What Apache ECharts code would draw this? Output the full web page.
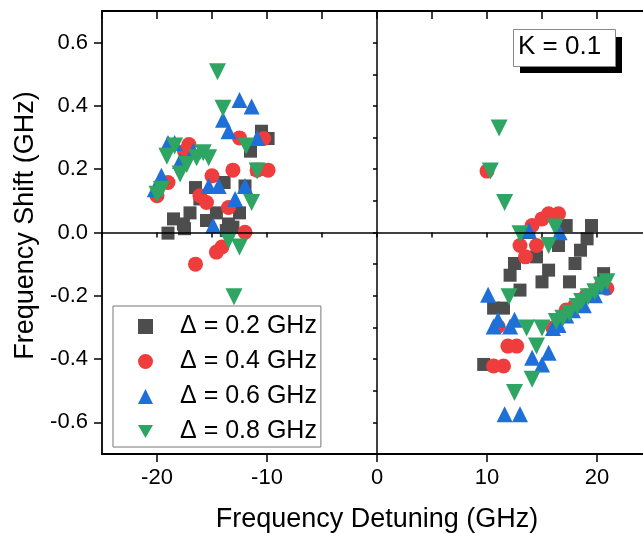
<!DOCTYPE html>
<html>
<head>
<meta charset="utf-8">
<script src="https://cdn.jsdelivr.net/npm/echarts@6/dist/echarts.min.js"></script>
<style>
  html, body { margin: 0; padding: 0; background: #fff; overflow: hidden; }
  #main { width: 700px; height: 533px; }
</style>
</head>
<body>
<div id="main"></div>
<script>
// axis ticks
const xTicks = [-20, -10, 0, 10, 20]
const yTicks = [-0.6, -0.4, -0.2, 0, 0.2, 0.4, 0.6]

// Delta = 0.2 GHz
const d02 = [
  [-10.5, 0.32], [-9.9, 0.297], [-11.5, 0.257], [-10.9, 0.2], [-13.9, 0.158], [-16.5, 0.142],
  [-12.0, 0.147], [-16.1, 0.106], [-17.0, 0.062], [-18.5, 0.043], [-17.6, 0.027], [-19.0, -0.002],
  [-17.5, 0.012], [-15.5, 0.038], [-14.6, 0.062], [-13.5, 0.027], [-12.5, 0.062], [-13.1, 0.017],
  [-13.7, 0.006],
  [17.2, 0.022], [19.5, 0.022], [19.1, -0.02], [18.5, -0.056], [18.0, -0.098], [16.5, -0.041],
  [14.5, -0.077], [15.6, -0.119], [15.0, -0.156], [17.5, -0.156], [12.5, -0.098], [12.1, -0.135],
  [13.0, -0.182], [10.6, -0.239], [11.5, -0.239], [9.7, -0.417], [20.6, -0.13], [13.8, 0.0]
]
// Delta = 0.4 GHz
const d04 = [
  [-17.1, 0.278], [-17.5, 0.257], [-12.5, 0.299], [-10.3, 0.297], [-13.1, 0.197], [-10.9, 0.197],
  [-9.9, 0.197], [-15.0, 0.179], [-19.0, 0.158], [-20.0, 0.116], [-16.1, 0.116], [-15.5, 0.095],
  [-13.5, 0.079], [-12.0, 0.001], [-14.1, -0.046], [-14.6, -0.062], [-16.5, -0.1],
  [10.0, 0.194], [14.1, 0.022], [15.0, 0.043], [15.6, 0.059], [16.5, 0.059], [13.0, -0.041],
  [14.5, -0.041], [13.5, -0.077], [11.9, -0.359], [12.7, -0.359], [10.6, -0.422], [11.5, -0.422],
  [11.0, -0.297], [16.0, -0.302], [17.2, -0.245], [18.0, -0.23], [19.0, -0.2], [20.4, -0.166],
  [20.9, -0.176]
]
// Delta = 0.6 GHz
const d06 = [
  [-12.5, 0.419], [-11.4, 0.398], [-14.0, 0.356], [-13.5, 0.32], [-10.9, 0.299], [-19.0, 0.283],
  [-18.4, 0.283], [-16.7, 0.257], [-17.9, 0.226], [-19.6, 0.179], [-20.2, 0.137], [-15.3, 0.147],
  [-14.4, 0.147], [-12.0, 0.147], [-12.9, 0.106], [-14.9, 0.022],
  [10.1, -0.197], [11.0, -0.276], [10.6, -0.297], [12.1, -0.297], [12.5, -0.276], [16.0, -0.302],
  [14.1, -0.396], [15.6, -0.38], [15.0, -0.417], [11.6, -0.574], [13.0, -0.574], [13.8, 0.006],
  [16.6, 0.001], [16.5, -0.292], [17.2, -0.262], [17.8, -0.246], [18.8, -0.23], [19.8, -0.198],
  [20.6, -0.171]
]
// Delta = 0.8 GHz
const d08 = [
  [-14.5, 0.508], [-14.0, 0.393], [-11.9, 0.273], [-10.9, 0.194], [-11.4, 0.095], [-19.1, 0.241],
  [-18.4, 0.273], [-17.9, 0.185], [-17.3, 0.215], [-16.4, 0.236], [-15.8, 0.252], [-15.3, 0.236],
  [-20.0, 0.121], [-19.6, 0.137], [-13.5, -0.025], [-12.5, -0.046], [-13.0, -0.203],
  [11.1, 0.33], [10.3, 0.194], [11.6, 0.095], [13.0, -0.004], [16.2, 0.017], [15.6, -0.041],
  [12.0, -0.203], [13.6, -0.302], [15.0, -0.302], [14.5, -0.359], [14.1, -0.464], [12.5, -0.506],
  [16.3, -0.281], [16.9, -0.271], [17.5, -0.255], [18.2, -0.234], [18.6, -0.218], [19.2, -0.203],
  [19.8, -0.187], [20.4, -0.166], [20.9, -0.156]
]

const font = 'Liberation Sans, Arial, sans-serif'
const downTri = 'path://M0,0L10,0L5,8.66Z'

const chart = echarts.init(document.getElementById('main'), null, { renderer: 'canvas' })

const mkSeries = (name, data, color, symbol, size) => ({
  name, type: 'scatter', data, symbol, symbolSize: size,
  itemStyle: { color, opacity: 1 },
  emphasis: { disabled: true }
})

const s02 = mkSeries('Δ = 0.2 GHz', d02, '#4d4d4d', 'rect', 13)
s02.markLine = {
  silent: true, symbol: 'none', animation: false,
  label: { show: false },
  lineStyle: { color: '#000', width: 1.5, type: 'solid' },
  data: [{ xAxis: 0 }, { yAxis: 0 }]
}

const option = {
  backgroundColor: '#fff',
  animation: false,
  grid: { left: 102, top: 11, width: 550, height: 443, containLabel: false, outerBoundsMode: 'none' },
  xAxis: [
    {
      type: 'value', min: -25, max: 25, interval: 5, position: 'bottom',
      axisLine: { show: true, onZero: false, lineStyle: { color: '#000', width: 1.8 } },
      axisTick: { show: true, inside: false, length: 8, customValues: xTicks, lineStyle: { color: '#000', width: 1.5 } },
      axisLabel: { customValues: xTicks, margin: 13, color: '#000', fontSize: 22, fontFamily: font,
        formatter: v => String(v) },
      splitLine: { show: false },
      name: 'Frequency Detuning (GHz)', nameLocation: 'middle', nameGap: 52,
      nameTextStyle: { color: '#000', fontSize: 27, fontFamily: font }
    },
    {
      type: 'value', min: -25, max: 25, interval: 5, position: 'bottom',
      axisLine: { show: false },
      axisTick: { show: true, length: 5, lineStyle: { color: '#000', width: 1.5 } },
      axisLabel: { show: false }, splitLine: { show: false }
    },
    {
      type: 'value', min: -25, max: 25, interval: 5, position: 'top',
      axisLine: { show: true, onZero: false, lineStyle: { color: '#000', width: 1.8 } },
      axisTick: { show: true, inside: true, length: 8, lineStyle: { color: '#000', width: 1.5 } },
      axisLabel: { show: false }, splitLine: { show: false }
    }
  ],
  yAxis: [
    {
      type: 'value', min: -0.7, max: 0.7, interval: 0.1, position: 'left',
      axisLine: { show: true, onZero: false, lineStyle: { color: '#000', width: 1.8 } },
      axisTick: { show: true, length: 8, customValues: yTicks, lineStyle: { color: '#000', width: 1.5 } },
      axisLabel: { customValues: yTicks, margin: 14, color: '#000', fontSize: 22, fontFamily: font,
        formatter: v => v.toFixed(1) },
      splitLine: { show: false },
      name: 'Frequency Shift (GHz)', nameLocation: 'middle', nameGap: 58,
      nameTextStyle: { color: '#000', fontSize: 27, fontFamily: font, padding: [0, 0, 0, 14] }
    },
    {
      type: 'value', min: -0.7, max: 0.7, interval: 0.1, position: 'left',
      axisLine: { show: false },
      axisTick: { show: true, length: 4, lineStyle: { color: '#000', width: 1.5 } },
      axisLabel: { show: false }, splitLine: { show: false }
    }
  ],
  legend: {
    orient: 'vertical', left: 113, top: 306,
    data: ['Δ = 0.2 GHz', 'Δ = 0.4 GHz', 'Δ = 0.6 GHz', 'Δ = 0.8 GHz'],
    itemWidth: 15, itemHeight: 15, itemGap: 10,
    padding: [8, 4, 3, 25],
    borderColor: '#777', borderWidth: 1, backgroundColor: '#fff',
    selectedMode: false,
    textStyle: { color: '#000', fontSize: 25, fontFamily: font, lineHeight: 25, padding: [0, 0, 0, 22] }
  },
  graphic: [
    { type: 'rect', left: 520, top: 37, shape: { width: 102, height: 36 }, style: { fill: '#000' }, z: 10 },
    { type: 'rect', left: 513, top: 29, shape: { width: 102, height: 37 },
      style: { fill: '#fff', stroke: '#888', lineWidth: 1 }, z: 11 },
    { type: 'text', left: 518, top: 34, style: { text: 'K = 0.1', fill: '#000', font: '26px ' + font }, z: 12 }
  ],
  series: [
    s02,
    mkSeries('Δ = 0.4 GHz', d04, '#ef3d3d', 'circle', 15),
    mkSeries('Δ = 0.6 GHz', d06, '#1f6fd8', 'triangle', 16),
    mkSeries('Δ = 0.8 GHz', d08, '#2ea562', downTri, 17)
  ]
}

chart.setOption(option)
</script>
</body>
</html>
